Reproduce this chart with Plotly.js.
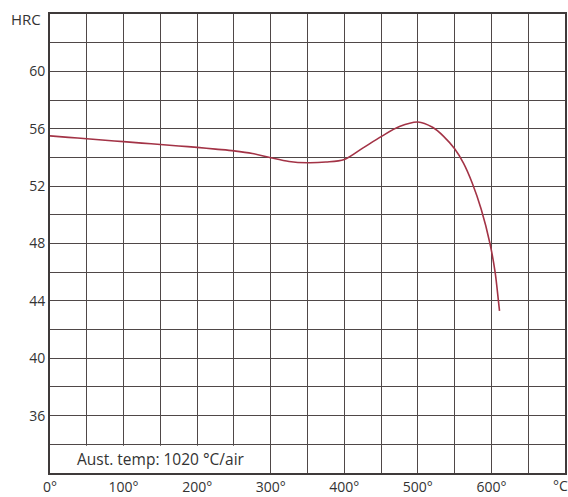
<!DOCTYPE html>
<html>
<head>
<meta charset="utf-8">
<script src="https://cdn.plot.ly/plotly-3.0.1.min.js"></script>
<style>html,body{margin:0;padding:0;background:#fff;}#chart{width:568px;height:497px;}</style>
</head>
<body>
<div id="chart"></div>
<script>
// Tempering curve data
const temps = [0, 25, 50, 75, 100, 125, 150, 175, 200, 225, 250, 275, 300, 325, 350, 375, 400, 425, 450, 475, 500, 520, 535, 550, 562, 574, 586, 598, 605, 609.5, 611];
const hrc   = [55.5, 55.4, 55.3, 55.2, 55.1, 55.0, 54.9, 54.8, 54.7, 54.58, 54.46, 54.28, 53.98, 53.72, 53.63, 53.68, 53.86, 54.65, 55.45, 56.15, 56.47, 56.1, 55.47, 54.6, 53.6, 52.2, 50.4, 48.0, 46.0, 44.0, 43.3];

const xTickVals = [0, 50, 100, 150, 200, 250, 300, 350, 400, 450, 500, 550, 600, 650, 700];
const xTickText = ['0°', '', '100°', '', '200°', '', '300°', '', '400°', '', '500°', '', '600°', '', ''];
const xUnit = '°C';
const yTickVals = [34, 36, 38, 40, 42, 44, 46, 48, 50, 52, 54, 56, 58, 60, 62];
const yTickText = ['', '36', '', '40', '', '44', '', '48', '', '52', '', '56', '', '60', ''];
const note = 'Aust. temp: 1020 °C/air';
const yUnit = 'HRC';

const gridCol = '#4f4848';
const fontFam = '"Open Sans", "DejaVu Sans", sans-serif';

Plotly.newPlot('chart', [{
  x: temps, y: hrc, type: 'scatter', mode: 'lines',
  line: {color: '#a33346', width: 1.6, shape: 'spline', smoothing: 0.9},
  hoverinfo: 'none'
}], {
  width: 568, height: 497,
  margin: {l: 50, r: 3, t: 14, b: 24},
  paper_bgcolor: '#fff', plot_bgcolor: '#fff',
  showlegend: false,
  font: {family: fontFam, size: 14, color: '#333'},
  xaxis: {
    range: [0, 700], tickvals: xTickVals, ticktext: xTickText,
    showgrid: true, gridcolor: gridCol, gridwidth: 1,
    showline: true, linecolor: '#3f3a3a', linewidth: 2, mirror: true,
    ticks: '', zeroline: false, tickfont: {size: 14, color: '#333'}
  },
  yaxis: {
    range: [32, 64], tickvals: yTickVals, ticktext: yTickText,
    showgrid: true, gridcolor: gridCol, gridwidth: 1,
    showline: true, linecolor: '#3f3a3a', linewidth: 2, mirror: true,
    ticks: '', zeroline: false, ticklabelstandoff: 0, tickfont: {size: 14, color: '#333'}
  },
  shapes: [{
    type: 'rect', xref: 'x', yref: 'y', x0: 0, x1: 299, y0: 32, y1: 33.9,
    fillcolor: '#fff', line: {width: 0}, layer: 'between'
  }],
  annotations: [
    {text: note, xref: 'x', yref: 'y', x: 151, y: 32.95, showarrow: false,
     font: {size: 15.5, color: '#333'}},
    {text: xUnit, xref: 'x', yref: 'paper', x: 700, y: 0, yanchor: 'top', xshift: -5, yshift: -1,
     showarrow: false, font: {size: 14, color: '#333'}},
    {text: yUnit, xref: 'paper', yref: 'paper', x: 0, xanchor: 'right', xshift: -7,
     y: 1, yanchor: 'middle', yshift: -5, showarrow: false, font: {size: 15, color: '#333'}}
  ]
}, {displayModeBar: false, staticPlot: true});
</script>
</body>
</html>
